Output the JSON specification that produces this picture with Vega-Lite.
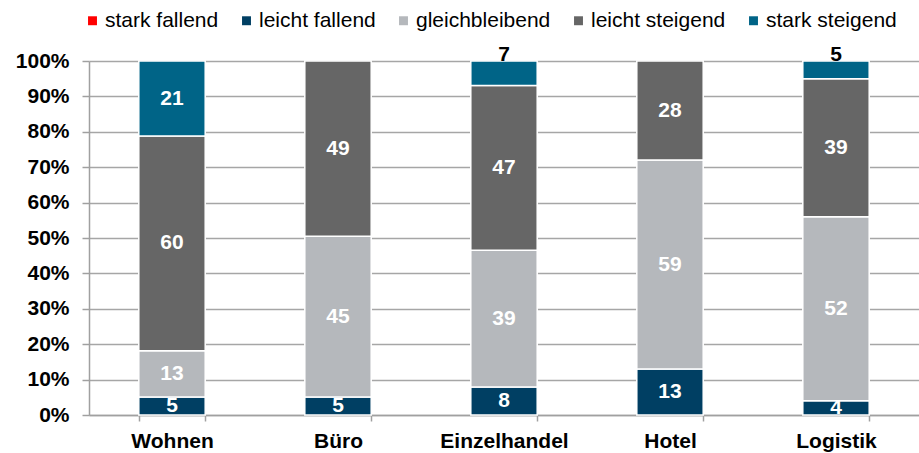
{
  "$schema": "https://vega.github.io/schema/vega-lite/v6.json",
  "width": 830,
  "height": 354,
  "autosize": {"type": "none"},
  "padding": {"left": 89, "top": 61, "right": 0, "bottom": 38},
  "background": "white",
  "config": {"view": {"stroke": null}, "font": "Liberation Sans"},
  "data": {
    "values": [
      {"cat": "Wohnen", "series": "leicht fallend", "order": 2, "value": 5},
      {"cat": "Wohnen", "series": "gleichbleibend", "order": 3, "value": 13},
      {"cat": "Wohnen", "series": "leicht steigend", "order": 4, "value": 60},
      {"cat": "Wohnen", "series": "stark steigend", "order": 5, "value": 21},
      {"cat": "Büro", "series": "leicht fallend", "order": 2, "value": 5},
      {"cat": "Büro", "series": "gleichbleibend", "order": 3, "value": 45},
      {"cat": "Büro", "series": "leicht steigend", "order": 4, "value": 49},
      {"cat": "Einzelhandel", "series": "leicht fallend", "order": 2, "value": 8},
      {"cat": "Einzelhandel", "series": "gleichbleibend", "order": 3, "value": 39},
      {"cat": "Einzelhandel", "series": "leicht steigend", "order": 4, "value": 47},
      {"cat": "Einzelhandel", "series": "stark steigend", "order": 5, "value": 7},
      {"cat": "Hotel", "series": "leicht fallend", "order": 2, "value": 13},
      {"cat": "Hotel", "series": "gleichbleibend", "order": 3, "value": 59},
      {"cat": "Hotel", "series": "leicht steigend", "order": 4, "value": 28},
      {"cat": "Logistik", "series": "leicht fallend", "order": 2, "value": 4},
      {"cat": "Logistik", "series": "gleichbleibend", "order": 3, "value": 52},
      {"cat": "Logistik", "series": "leicht steigend", "order": 4, "value": 39},
      {"cat": "Logistik", "series": "stark steigend", "order": 5, "value": 5}
    ]
  },
  "transform": [
    {"stack": "value", "groupby": ["cat"], "sort": [{"field": "order"}], "as": ["y0", "y1"], "offset": "normalize"},
    {"calculate": "(datum.y0 + datum.y1) / 2", "as": "ymid"}
  ],
  "encoding": {
    "x": {
      "field": "cat",
      "type": "nominal",
      "sort": ["Wohnen", "Büro", "Einzelhandel", "Hotel", "Logistik"],
      "scale": {"paddingInner": 0.6, "paddingOuter": 0.3},
      "axis": {
        "title": null,
        "labelAngle": 0,
        "tickBand": "extent",
        "domainColor": "#a0a0a0",
        "domainWidth": 1.5,
        "tickColor": "#a0a0a0",
        "tickWidth": 1.5,
        "tickSize": 6,
        "labelFontSize": 21,
        "labelFontWeight": "bold",
        "labelColor": "#000000",
        "labelPadding": 9,
        "grid": false
      }
    }
  },
  "layer": [
    {
      "mark": {"type": "bar", "stroke": "white", "strokeWidth": 1.5},
      "encoding": {
        "y": {
          "field": "y0",
          "type": "quantitative",
          "scale": {"domain": [0, 1], "nice": false},
          "axis": {
            "title": null,
            "values": [0, 0.1, 0.2, 0.3, 0.4, 0.5, 0.6, 0.7, 0.8, 0.9, 1],
            "format": ".0%",
            "labelOverlap": false,
            "labelFontSize": 21,
            "labelFontWeight": "bold",
            "labelColor": "#000000",
            "labelPadding": 13,
            "domainColor": "#a0a0a0",
            "domainWidth": 1.5,
            "tickColor": "#a0a0a0",
            "tickWidth": 1.5,
            "tickSize": 7,
            "grid": true,
            "gridColor": "#a6a6a6",
            "gridWidth": 1.5
          }
        },
        "y2": {"field": "y1"},
        "color": {
          "field": "series",
          "type": "nominal",
          "scale": {
            "domain": ["stark fallend", "leicht fallend", "gleichbleibend", "leicht steigend", "stark steigend"],
            "range": ["#ff0000", "#003f63", "#b5b8bc", "#666666", "#006487"]
          },
          "legend": {
            "title": null,
            "orient": "none",
            "legendX": -7,
            "legendY": -51,
            "direction": "horizontal",
            "symbolType": "square",
            "symbolSize": 80,
            "symbolStrokeWidth": 0,
            "labelFontSize": 21,
            "labelColor": "#000000",
            "labelOffset": 2,
            "columnPadding": 17
          }
        }
      }
    },
    {
      "transform": [{"filter": "!(datum.series == 'stark steigend' && datum.value < 10)"}],
      "mark": {"type": "text", "color": "white", "fontWeight": "bold", "fontSize": 21, "baseline": "middle"},
      "encoding": {
        "y": {
          "field": "ymid",
          "type": "quantitative",
          "scale": {"domain": [0, 1], "nice": false},
          "axis": {
            "title": null,
            "values": [0, 0.1, 0.2, 0.3, 0.4, 0.5, 0.6, 0.7, 0.8, 0.9, 1],
            "format": ".0%",
            "labelOverlap": false,
            "labelFontSize": 21,
            "labelFontWeight": "bold",
            "labelColor": "#000000",
            "labelPadding": 13,
            "domainColor": "#a0a0a0",
            "domainWidth": 1.5,
            "tickColor": "#a0a0a0",
            "tickWidth": 1.5,
            "tickSize": 7,
            "grid": true,
            "gridColor": "#a6a6a6",
            "gridWidth": 1.5
          }
        },
        "text": {"field": "value", "type": "quantitative"}
      }
    },
    {
      "transform": [{"filter": "datum.series == 'stark steigend' && datum.value < 10"}],
      "mark": {"type": "text", "color": "black", "fontWeight": "bold", "fontSize": 21, "baseline": "alphabetic"},
      "encoding": {
        "y": {
          "datum": 1,
          "type": "quantitative",
          "scale": {"domain": [0, 1], "nice": false},
          "axis": {
            "title": null,
            "values": [0, 0.1, 0.2, 0.3, 0.4, 0.5, 0.6, 0.7, 0.8, 0.9, 1],
            "format": ".0%",
            "labelOverlap": false,
            "labelFontSize": 21,
            "labelFontWeight": "bold",
            "labelColor": "#000000",
            "labelPadding": 13,
            "domainColor": "#a0a0a0",
            "domainWidth": 1.5,
            "tickColor": "#a0a0a0",
            "tickWidth": 1.5,
            "tickSize": 7,
            "grid": true,
            "gridColor": "#a6a6a6",
            "gridWidth": 1.5
          }
        },
        "text": {"field": "value", "type": "quantitative"}
      }
    }
  ]
}
